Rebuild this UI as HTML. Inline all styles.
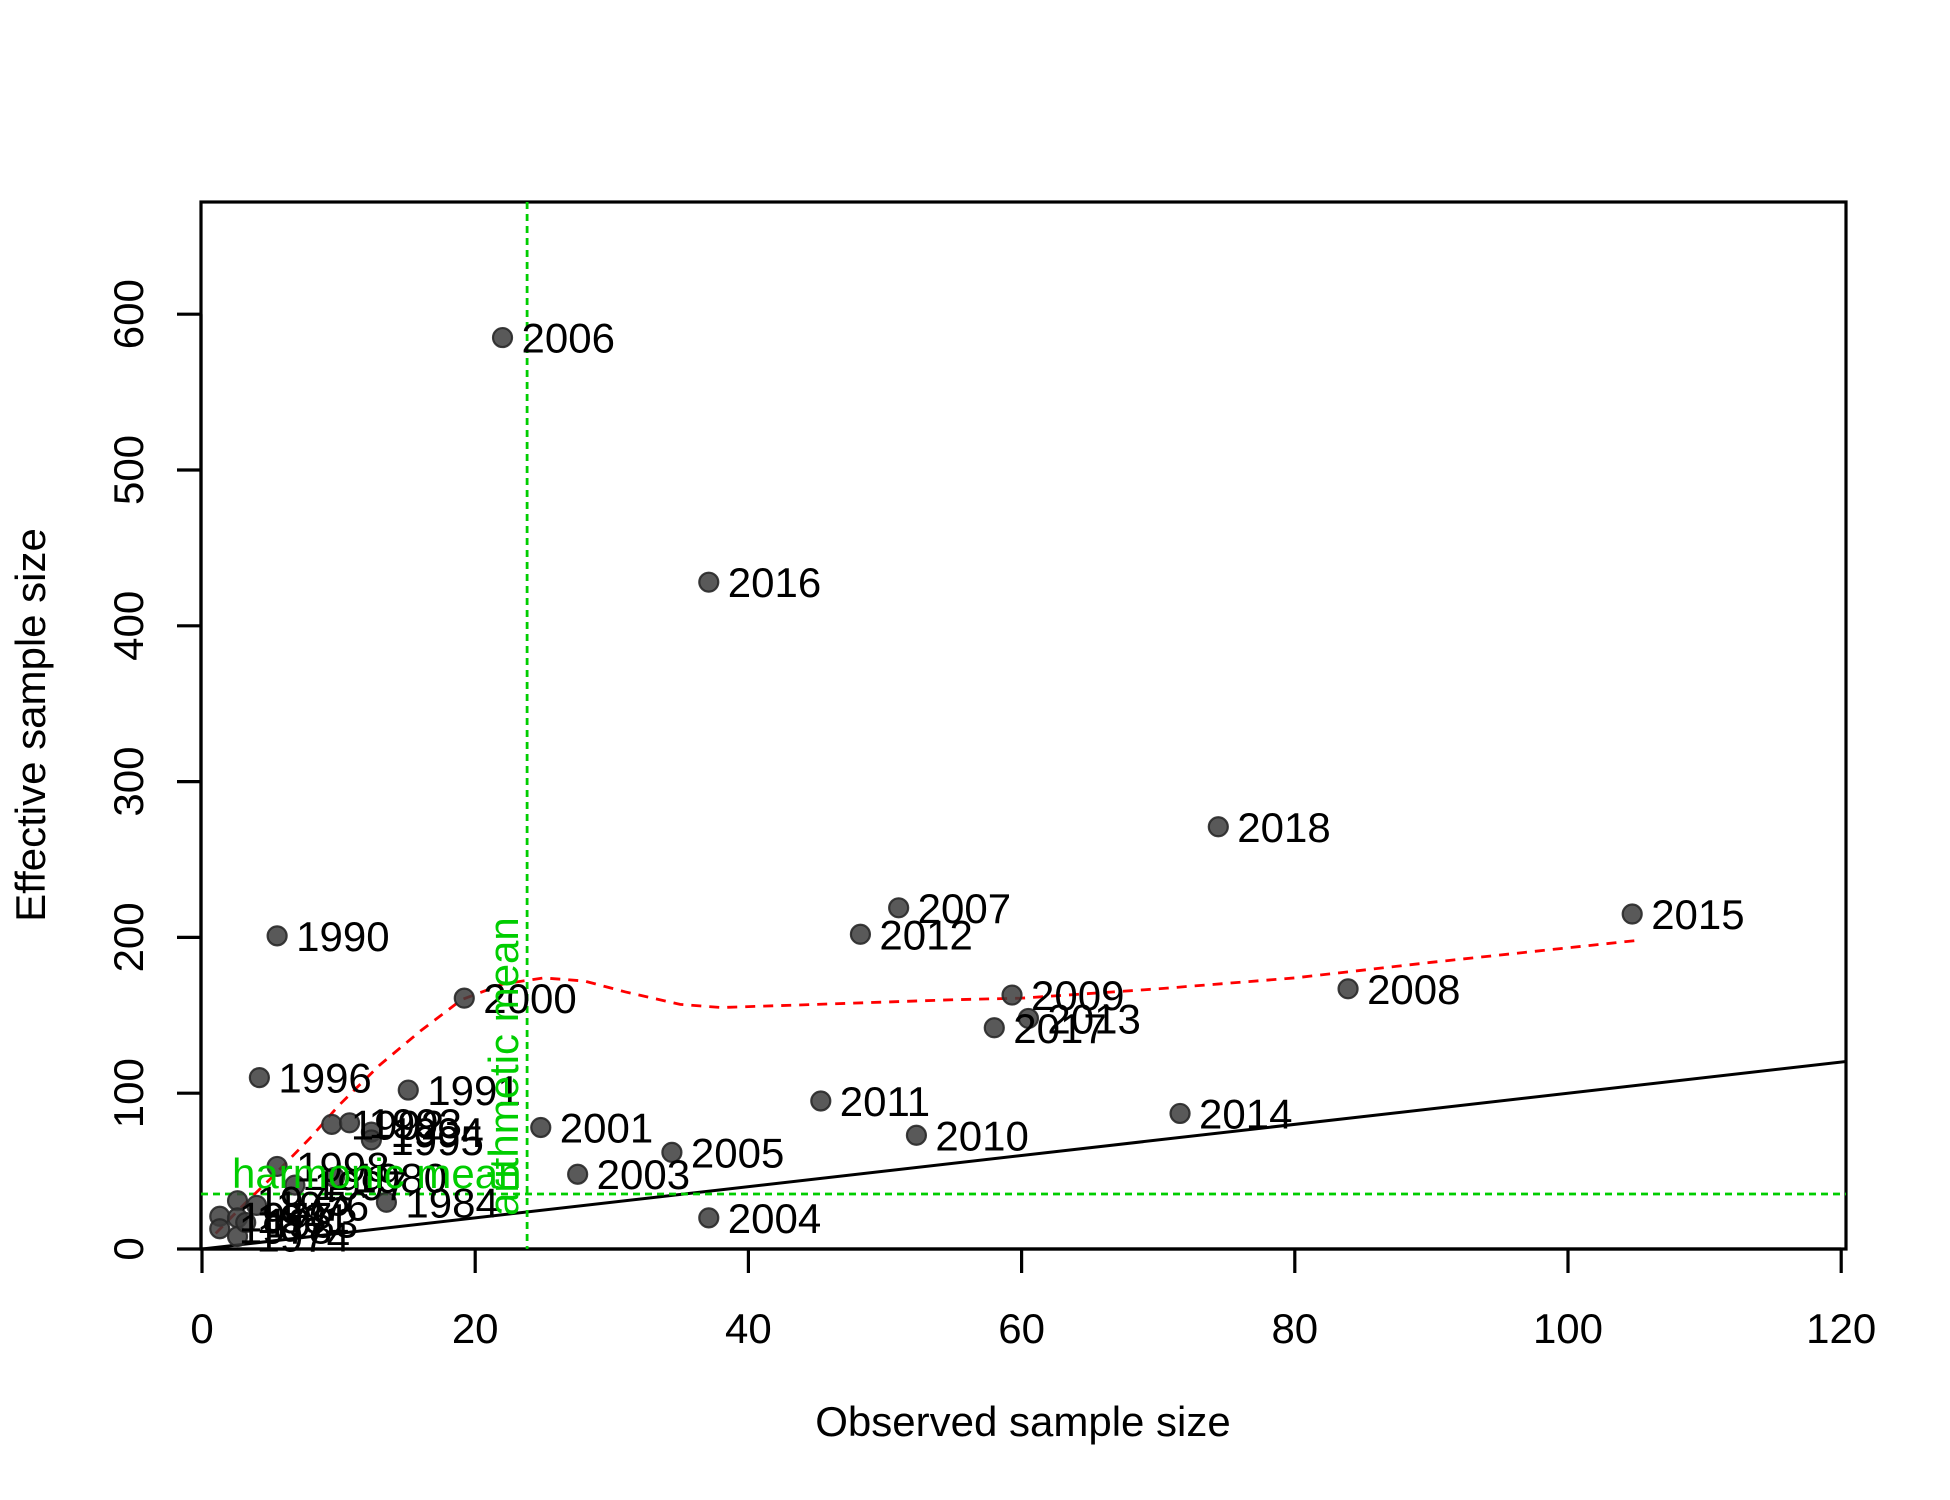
<!DOCTYPE html>
<html><head><meta charset="utf-8">
<style>
html,body{margin:0;padding:0;background:#fff;}
svg{display:block;font-family:"Liberation Sans",Arial,sans-serif;}
</style></head>
<body>
<svg id="chart" width="1950" height="1500" viewBox="0 0 1950 1500" xmlns="http://www.w3.org/2000/svg">
<rect width="1950" height="1500" fill="#fff"/>
</svg>
<script>
const years = ["2006","2016","2018","2015","2007","2012","1990","2000","2008","2009","2013","2017","1996","1991","2001","2011","2010","2014","2005","2003","2004",
"1992","1993","1994","1995","1998","1997","1980","1984","1975","1976","1977","1978","1981","1974","1983"];
const observed = [22,37.1,74.4,104.7,51,48.2,5.5,19.2,83.9,59.3,60.5,58,4.2,15.1,24.8,45.3,52.3,71.6,34.4,27.5,37.1,
9.5,10.8,12.4,12.4,5.5,6.8,9.7,13.5,2.6,4.0,1.3,1.3,2.6,2.6,3.2];
const effective = [585,428,271,215,219,202,201,161,167,163,148,142,110,102,78,95,73,87,62,48,20,
80,81,75,70,53,41,46,30,31,28,21,13,20,8,17];
const smoothX = [1,3,5,8,10,13,16,19,22,25,28,31,35,38,45,55,60,70,80,90,105];
const smoothY = [10,28,45,72,92,118,140,160,170,174,172,165,157,155,157,160,161,167,174,184,198];
const xTicks = [0,20,40,60,80,100,120];
const yTicks = [0,100,200,300,400,500,600];
const arithMean = 23.8;
const harmMean = 35.3;

const NS="http://www.w3.org/2000/svg";
const svg=document.getElementById('chart');
const X0=202, XS=13.66, Y0=1249, YS=1.558;
const FS=42;
const sx=v=>X0+v*XS, sy=v=>Y0-v*YS;
function mk(tag,attrs,parent){const e=document.createElementNS(NS,tag);for(const k in attrs)e.setAttribute(k,attrs[k]);(parent||svg).appendChild(e);return e;}

const box=mk('rect',{x:201,y:202,width:1645,height:1047,fill:'none',stroke:'#000','stroke-width':3.2});



const xg=mk('g',{});


mk('line',{x1:sx(0),x2:sx(120),y1:1249,y2:1249,stroke:'#000','stroke-width':3.2},xg);
xTicks.forEach(t=>{
  mk('line',{x1:sx(t),x2:sx(t),y1:1249,y2:1273,stroke:'#000','stroke-width':3.2},xg);
  const tx=mk('text',{x:sx(t),y:1343,'font-size':FS,'text-anchor':'middle'},xg);
  tx.textContent=t;
  
  
});
const xt=mk('text',{x:1023,y:1436,'font-size':FS,'text-anchor':'middle'});
xt.textContent='Observed sample size';



const yg=mk('g',{});


mk('line',{x1:201,x2:201,y1:sy(0),y2:sy(600),stroke:'#000','stroke-width':3.2},yg);
yTicks.forEach(t=>{
  mk('line',{x1:177,x2:201,y1:sy(t),y2:sy(t),stroke:'#000','stroke-width':3.2},yg);
  const tx=mk('text',{x:0,y:0,'font-size':FS,'text-anchor':'middle',transform:`translate(143,${sy(t)}) rotate(-90)`},yg);
  tx.textContent=t;
  
  
});
const yt=mk('text',{x:0,y:0,'font-size':FS,'text-anchor':'middle',transform:'translate(45,725) rotate(-90)'});
yt.textContent='Effective sample size';



const defs=mk('defs',{});
const cp=mk('clipPath',{id:'clip'},defs);
mk('rect',{x:202,y:203,width:1643,height:1045},cp);

const one=mk('line',{x1:sx(0),y1:sy(0),x2:sx(122),y2:sy(122),stroke:'#000','stroke-width':3,'clip-path':'url(#clip)'});



const vl=mk('line',{x1:sx(arithMean),x2:sx(arithMean),y1:202,y2:1249,stroke:'#00cd00','stroke-width':2.8,'stroke-dasharray':'7 5'});


const hl=mk('line',{x1:201,x2:1846,y1:sy(harmMean),y2:sy(harmMean),stroke:'#00cd00','stroke-width':2.8,'stroke-dasharray':'7 5'});



const sp=mk('polyline',{points:smoothX.map((v,i)=>sx(v)+','+sy(smoothY[i])).join(' '),fill:'none',stroke:'#ff0000','stroke-width':2.8,'stroke-dasharray':'10 8'});



const pg=mk('g',{});


observed.forEach((v,i)=>{
  const c=mk('circle',{cx:sx(v),cy:sy(effective[i]),r:9.5,fill:'rgba(60,60,60,0.85)',stroke:'rgba(40,40,40,0.9)','stroke-width':2.2},pg);
  
  
});
observed.forEach((v,i)=>{
  const t=mk('text',{x:sx(v)+19,y:sy(effective[i])+15,'font-size':FS},pg);
  t.textContent=years[i];
  
  
});

const hlab=mk('text',{x:232,y:1188,'font-size':FS,fill:'#00cd00'});
hlab.textContent='harmonic mean';


const alab=mk('text',{x:0,y:0,'font-size':FS,fill:'#00cd00',transform:`translate(${sx(arithMean)-9},1216) rotate(-90)`});
alab.textContent='arithmetic mean';


</script>
</body></html>
